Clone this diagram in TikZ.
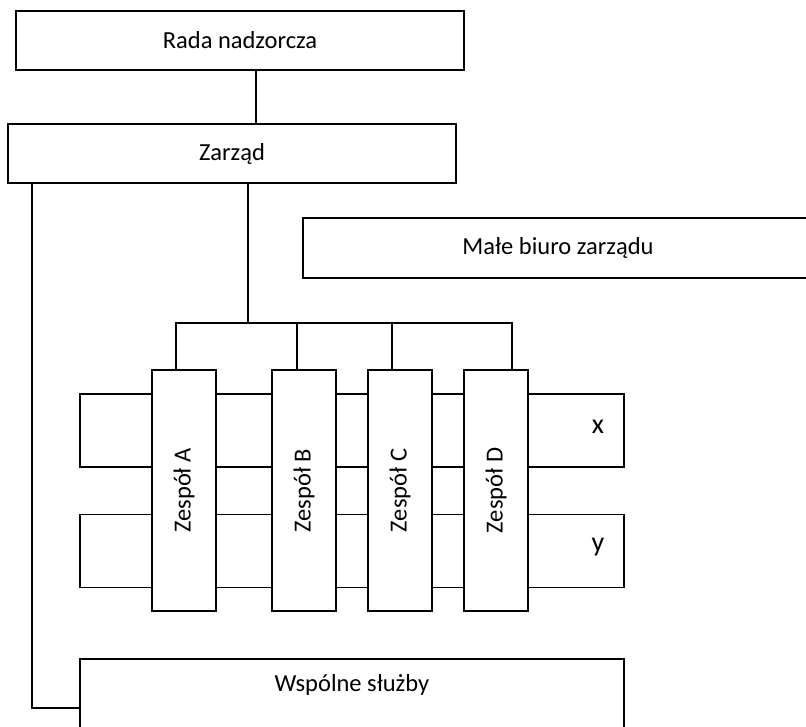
\documentclass[tikz,border=0pt]{standalone}
\usepackage{fontspec}
\usepackage{graphicx}
\setmainfont{Carlito}
\usetikzlibrary{calc}
\tikzset{
  box/.style={draw, line width=1.8pt, minimum width=448pt, minimum height=59pt, inner sep=0pt},
  team/.style={draw, fill=white, line width=1.8pt, minimum width=64pt, minimum height=241pt, inner sep=0pt},
  lane/.style={draw, line width=1.8pt, minimum width=544pt, minimum height=73pt, inner sep=0pt},
  tag/.style={font=\fontsize{28}{32}\selectfont},
  link/.style={line width=1.8pt}
}
\begin{document}
\begin{tikzpicture}[x=1pt,y=-1pt,font=\fontsize{24.5}{28}\selectfont]
  \useasboundingbox (0,0) rectangle (806,726);
  \clip (0,0) rectangle (806,726);
  \node[box] (rada) at (240,40.5) {Rada nadzorcza};
  \node[box] (zarzad) at (232,153.5) {Zarząd};
  \node[box, minimum width=510pt, minimum height=60pt] (biuro) at (558,248) {Małe biuro zarządu};
  % pasy x i y
  \node[lane] (lanex) at (352,430.5) {};
  \node[lane] (laney) at (352,551) {};
  \node[tag] (xl) at (598,427) {x};
  \node[tag] (yl) at (598,547) {y};
  % zespoly
  \foreach \n/\x in {A/184,B/304,C/400,D/496}
    \node[team] (z\n) at (\x,490.5) {\rotatebox{90}{Zespół \n}};
  % wspolne sluzby
  \node[box, minimum width=544pt, minimum height=98pt, anchor=north] (wspolne) at (352,658) {};
  \node (wsl) at (352,685) {Wspólne służby};
  % polaczenia
  \coordinate (bus) at (248,323);
  \draw[link] ([xshift=16pt]rada.south) -- ([xshift=16pt]rada.south |- zarzad.north);
  \draw[link] ([xshift=16pt]zarzad.south) -- (bus);
  \draw[link] ([xshift=-8pt]zA.north) |- (bus) -| ([xshift=16pt]zD.north);
  \draw[link] ([xshift=-7pt]zB.north) -- ([xshift=-7pt]zB.north |- bus);
  \draw[link] ([xshift=-8pt]zC.north) -- ([xshift=-8pt]zC.north |- bus);
  \draw[link] ([xshift=-200pt]zarzad.south) |- (wspolne.west);
\end{tikzpicture}
\end{document}
